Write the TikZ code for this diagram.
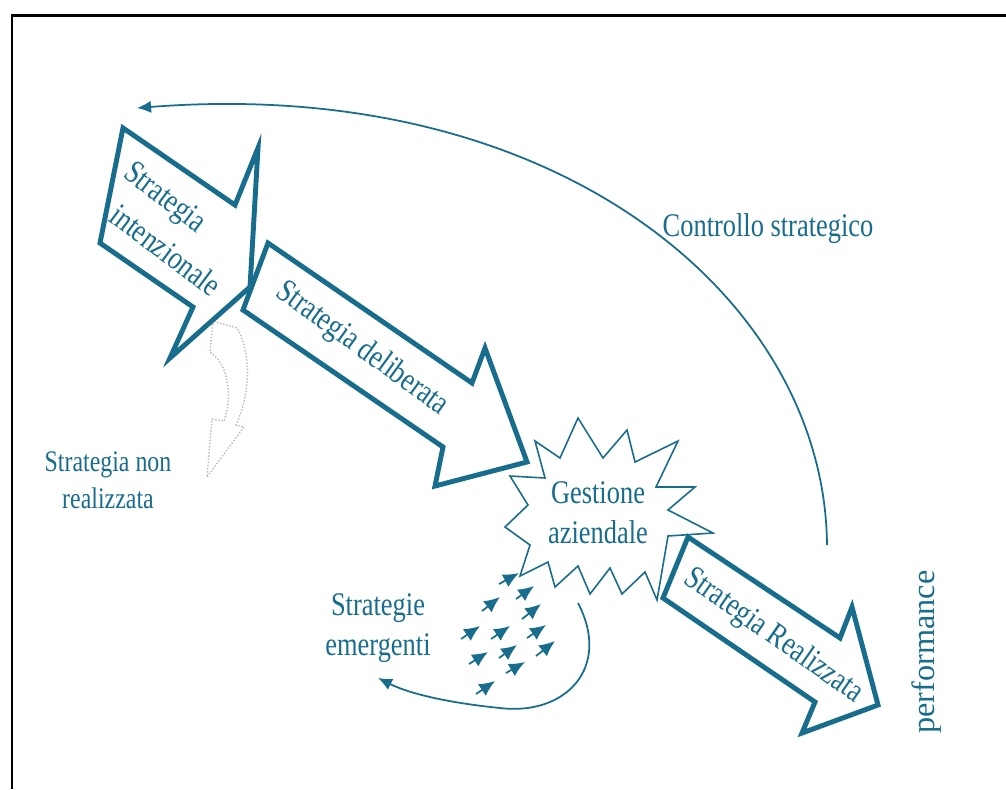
\documentclass[tikz,border=0pt]{standalone}
\usepackage{fontspec}
\setmainfont{Liberation Serif}
\newfontfamily\narrowserif[FakeStretch=0.8]{Liberation Serif}
\usetikzlibrary{arrows.meta}
\definecolor{stratblue}{RGB}{24,108,140}

\begin{document}
\begin{tikzpicture}[x=0.02cm,y=-0.02cm,
  blockarrow/.style={draw=stratblue, line width=2.8pt, fill=white, line join=miter},
  lbl/.style={text=stratblue, inner sep=0pt, align=center,
    font=\narrowserif\fontsize{18.8}{22.7}\selectfont},
  smalllbl/.style={text=stratblue, inner sep=0pt, align=center,
    font=\narrowserif\fontsize{17}{21}\selectfont},
  plainlbl/.style={text=stratblue, inner sep=0pt,
    font=\fontsize{18.4}{22.7}\selectfont},
  thinlink/.style={draw=stratblue, line width=1pt},
  smallarrow/.style={draw=stratblue, line width=1pt,
    -{Latex[length=9pt,width=8pt]}},
  bigtip/.style={-{Latex[length=8pt,width=7pt]}}]

\useasboundingbox (0,0) rectangle (1006,789);

% frame
\draw[line width=1.7pt] (12,789) -- (12,15) -- (1006,15);

% unrealised strategy: dotted curled arrow
\draw[gray!55, densely dotted, line width=0.8pt]
  (213,321) -- (210,352) .. controls (226,362) and (234,392) .. (224,421)
  -- (212,419) -- (207,477) -- (244,427) -- (236,425)
  .. controls (252,390) and (250,350) .. (237,328) -- cycle;

% operational management burst
\draw[stratblue, line width=0.9pt, fill=white, line join=miter]
  (535,441) -- (560,458) -- (578,418) -- (603,458) -- (627,430) -- (635,462)
  -- (678,441) -- (656,487) -- (695,487) -- (668,510) -- (713,533) -- (668,536)
  -- (657,600) -- (645,572) -- (622,594) -- (610,568) -- (590,594) -- (578,566)
  -- (555,587) -- (548,562) -- (520,576) -- (530,545) -- (505,527) -- (528,505)
  -- (510,476) -- (545,478) -- cycle;
\node[lbl] (gestione) at (598,513) {Gestione\\aziendale};

% block arrows
\draw[blockarrow] (123,128) -- (235,205) -- (258,148) -- (250,287)
  -- (170,358) -- (193,307) -- (100,243) -- cycle;
\draw[blockarrow] (268,243) -- (472,383) -- (485,348) -- (527,462)
  -- (435,486) -- (443,447) -- (243,310) -- cycle;
\draw[blockarrow] (688,537) -- (840,638) -- (852,607) -- (878,705)
  -- (802,733) -- (815,702) -- (663,598) -- cycle;

\node[lbl, rotate=-37] (intenz1) at (164,199) {Strategia};
\node[lbl, rotate=-37] (intenz2) at (166,250) {intenzionale};
\node[lbl, rotate=-36] (deliberata) at (362,349) {Strategia deliberata};
\node[lbl, rotate=-35] (realizzata) at (773,636) {Strategia Realizzata};

% side labels
\node[plainlbl, rotate=90] (performance) at (927,652) {performance};
\node[lbl] (controllo) at (768,229) {Controllo strategico};
\node[smalllbl] (nonreal) at (108,480) {Strategia non\\realizzata};
\node[lbl] (emergenti) at (378,628) {Strategie\\emergenti};

% strategic control feedback loop
\coordinate (ctrlstart) at (827,545);
\coordinate (ctrlend) at (137,108);
\draw[thinlink, bigtip] (ctrlstart)
  .. controls (825,300) and (560,75) .. (ctrlend);

% emergent strategies loop
\coordinate (emstart) at (578,603);
\coordinate (emend) at (378,678);
\draw[thinlink, bigtip] (emstart)
  .. controls (612,668) and (565,716) .. (500,708)
  .. controls (450,703) and (410,694) .. (emend);

% emergent strategy arrows
\foreach \ax/\ay/\bx/\by in {
  499/584/519/573, 516/599/534/586, 482/611/500/597, 522/619/541/604,
  461/639/480/626, 491/639/510/626, 527/638/546/625, 469/664/488/652,
  499/658/517/645, 536/656/555/641, 506/673/525/662, 476/694/495/681}
  \draw[smallarrow] (\ax,\ay) -- (\bx,\by);

\end{tikzpicture}
\end{document}
